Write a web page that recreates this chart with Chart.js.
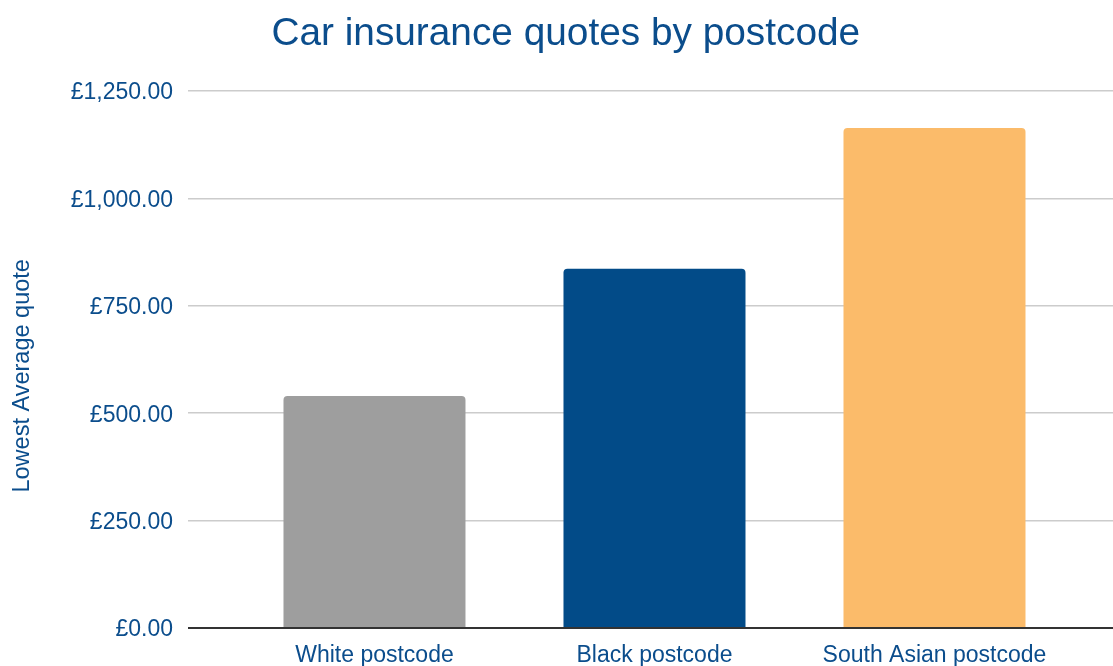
<!DOCTYPE html>
<html>
<head>
<meta charset="utf-8">
<script src="https://cdn.jsdelivr.net/npm/chart.js@4"></script>
<style>
  body { margin: 0; background: #fff; }
  #chart-quotes { display: block; }
</style>
</head>
<body>
<canvas id="chart-quotes" width="1113" height="666"></canvas>
<script>
var categories = ["White postcode", "Black postcode", "South Asian postcode"];
var quotes = [540, 836, 1164];
var barColors = ["#9e9e9e", "#024b88", "#fbbb6a"];
var yTicks = [0, 250, 500, 750, 1000, 1250];

var textColor = "#0b4d8c";
var fontFamily = "'Liberation Sans', Arial, sans-serif";

function poundLabel(value) {
    return "£" + value.toLocaleString("en-GB", { minimumFractionDigits: 2, maximumFractionDigits: 2 });
}

var points = [];
for (var i = 0; i < quotes.length; i++) {
    points.push({ x: i, y: quotes[i] });
}

var ctx = document.getElementById("chart-quotes");
var myChart = new Chart(ctx, {
    type: "bar",
    data: {
        datasets: [{
            data: points,
            backgroundColor: barColors,
            borderRadius: 4,
            borderSkipped: "start",
            categoryPercentage: 1,
            barPercentage: 0.65
        }]
    },
    options: {
        responsive: false,
        animation: false,
        devicePixelRatio: 1,
        layout: { padding: { left: 0, right: 0, top: 0, bottom: 0 } },
        plugins: {
            legend: { display: false },
            tooltip: { enabled: false },
            title: {
                display: true,
                // leading spaces nudge the title a little to the right
                text: " \u2009Car insurance quotes by postcode",
                color: textColor,
                font: { family: fontFamily, size: 38.8, weight: "normal" },
                padding: { top: 11, bottom: 33.4 }
            }
        },
        scales: {
            x: {
                type: "linear",
                offset: false,
                min: -0.666,
                max: 2.6375,
                grid: { display: false, offset: false },
                border: { display: false },
                afterFit: function (scale) { scale.height = 38; },
                ticks: {
                    stepSize: 1,
                    includeBounds: false,
                    autoSkip: false,
                    maxRotation: 0,
                    padding: 6,
                    color: textColor,
                    font: { family: fontFamily, size: 23 },
                    callback: function (value) {
                        return Number.isInteger(value) && categories[value] ? categories[value] : "";
                    }
                }
            },
            y: {
                min: yTicks[0],
                max: yTicks[yTicks.length - 1],
                afterFit: function (scale) { scale.width = 188; },
                afterBuildTicks: function (scale) {
                    scale.ticks = yTicks.map(function (v) { return { value: v }; });
                },
                grid: {
                    drawTicks: false,
                    color: function (c) { return c.tick && c.tick.value === 0 ? "#333333" : "#cccccc"; },
                    lineWidth: function (c) { return c.tick && c.tick.value === 0 ? 2 : 1.5; }
                },
                border: { display: false },
                ticks: {
                    padding: 15,
                    labelOffset: 2,
                    color: textColor,
                    font: { family: fontFamily, size: 23 },
                    callback: function (value) { return poundLabel(value); }
                },
                title: {
                    display: true,
                    // trailing spaces push the rotated label down, as in the reference
                    text: "Lowest Average quote     ",
                    color: textColor,
                    font: { family: fontFamily, size: 23.5 },
                    padding: { top: 8, bottom: 0 }
                }
            }
        }
    }
});
</script>
</body>
</html>
